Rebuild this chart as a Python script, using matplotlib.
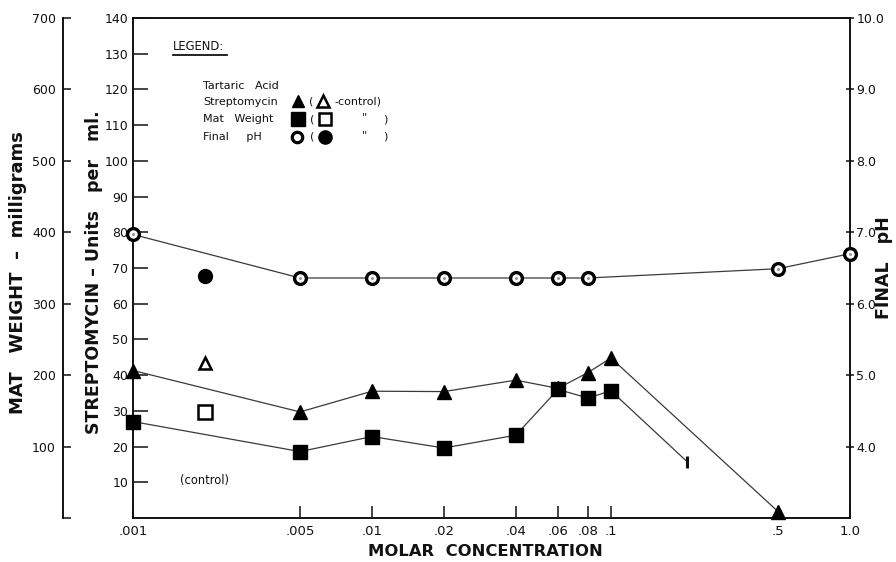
import matplotlib
matplotlib.use("Agg")
import matplotlib.pyplot as plt
from matplotlib.lines import Line2D
from matplotlib.ticker import FixedLocator, FixedFormatter, NullLocator

# ---- data -------------------------------------------------------------
conc_ticks = [0.001, 0.005, 0.01, 0.02, 0.04, 0.06, 0.08, 0.1, 0.5, 1.0]
conc_labels = [".001", ".005", ".01", ".02", ".04", ".06", ".08", ".1", ".5", "1.0"]

strep_conc = [0.001, 0.005, 0.01, 0.02, 0.04, 0.06, 0.08, 0.1, 0.5]
strep_units = [41.3, 29.7, 35.5, 35.4, 38.6, 36.3, 40.7, 44.8, 1.8]

mat_conc = [0.001, 0.005, 0.01, 0.02, 0.04, 0.06, 0.08, 0.1]
mat_mg = [135, 93, 114, 98, 116, 180, 168, 178]
mat_tail_conc = [0.1, 0.208]
mat_tail_mg = [178, 79]

ph_conc = [0.001, 0.005, 0.01, 0.02, 0.04, 0.06, 0.08, 0.5, 1.0]
final_ph = [6.97, 6.36, 6.36, 6.36, 6.36, 6.36, 6.36, 6.49, 6.70]

control_conc = 0.002
control_strep = 43.4
control_mat = 148
control_ph = 6.39

strep_ticks = list(range(10, 150, 10))
mat_ticks = list(range(0, 800, 100))
ph_ticks = [4.0, 5.0, 6.0, 7.0, 8.0, 9.0, 10.0]

# ---- layout -----------------------------------------------------------
W, H = 896, 562
L, R, B, T = 133, 850, 518, 18
INK = "#111111"
LINE = "#3a3a3a"
TICK_FS = 9
plt.rcParams["font.family"] = ["DejaVu Sans"]

fig = plt.figure(figsize=(W / 100, H / 100), dpi=100)
fig.patch.set_facecolor("white")
ax = fig.add_axes([L / W, 1 - B / H, (R - L) / W, (B - T) / H])


def fx(px):
    return px / W


def fy(py):
    return 1 - py / H


# streptomycin axis (main)
ax.set_xscale("log")
ax.set_xlim(0.001, 1.0)
ax.set_ylim(0, 140)
ax.xaxis.set_major_locator(FixedLocator(conc_ticks))
ax.xaxis.set_major_formatter(FixedFormatter(conc_labels))
ax.xaxis.set_minor_locator(NullLocator())
ax.yaxis.set_major_locator(FixedLocator(strep_ticks))
ax.yaxis.set_major_formatter(FixedFormatter([str(v) for v in strep_ticks]))
ax.tick_params(axis="x", direction="in", length=8.5, width=1.1, pad=5,
               labelsize=TICK_FS + 0.5, colors=INK)
ax.tick_params(axis="y", direction="in", length=11, width=1.1, pad=3.5,
               labelsize=TICK_FS, colors=INK)
for side in ("left", "bottom", "top"):
    ax.spines[side].set_linewidth(1.4)
    ax.spines[side].set_color(INK)
ax.spines["right"].set_visible(False)

# pH axis (right)
ax_p = ax.twinx()
ax_p.set_ylim(3, 10)
ax_p.yaxis.set_major_locator(FixedLocator(ph_ticks))
ax_p.yaxis.set_major_formatter(FixedFormatter([f"{v:.1f}" for v in ph_ticks]))
ax_p.tick_params(axis="y", direction="inout", length=6, width=1.1, pad=1.5,
                 labelsize=TICK_FS, colors=INK)
for side in ("left", "bottom", "top"):
    ax_p.spines[side].set_visible(False)
ax_p.spines["right"].set_linewidth(1.4)
ax_p.spines["right"].set_color(INK)

# mat weight axis (outer left)
ax_m = ax.twinx()
ax_m.set_ylim(0, 700)
ax_m.spines["left"].set_position(("axes", (62.7 - L) / (R - L)))
ax_m.spines["left"].set_visible(True)
ax_m.spines["left"].set_linewidth(1.4)
ax_m.spines["left"].set_color(INK)
for side in ("right", "bottom", "top"):
    ax_m.spines[side].set_visible(False)
ax_m.yaxis.set_ticks_position("left")
ax_m.yaxis.set_label_position("left")
ax_m.yaxis.set_major_locator(FixedLocator(mat_ticks))
ax_m.yaxis.set_major_formatter(
    FixedFormatter(["" if v == 0 else str(v) for v in mat_ticks]))
ax_m.tick_params(axis="y", direction="in", length=6, width=1.1, pad=5,
                 labelsize=TICK_FS, colors=INK)

# ---- series -----------------------------------------------------------
ax.plot(strep_conc, strep_units, "-", color=LINE, lw=0.9, marker="^", ms=10,
        mfc="k", mec="k", clip_on=False, zorder=3)
ax.plot([control_conc], [control_strep], ls="none", marker="^", ms=9,
        mfc="white", mec="k", mew=1.8, clip_on=False, zorder=3)
ax.text(control_conc, 10.5, "(control)", ha="center", va="center",
        fontsize=8.3, color=INK)

ax_m.plot(mat_tail_conc, mat_tail_mg, "-", color=LINE, lw=0.9, zorder=2)
ax_m.plot(mat_tail_conc[-1:], mat_tail_mg[-1:], ls="none", marker="|", ms=9,
          mew=2.2, color=INK, zorder=3)
ax_m.plot(mat_conc, mat_mg, "-", color=LINE, lw=0.9, marker="s", ms=10.5,
          mfc="k", mec="k", clip_on=False, zorder=3)
ax_m.plot([control_conc], [control_mat], ls="none", marker="s", ms=10,
          mfc="white", mec="k", mew=1.8, zorder=3)

ax_p.plot(ph_conc, final_ph, "-", color=LINE, lw=0.9, marker="o", ms=8.5,
          mfc="white", mec="k", mew=2.4, clip_on=False, zorder=3)
ax_p.plot(ph_conc, final_ph, ls="none", marker="o", ms=2.2, mfc="#9a9a9a",
          mec="none", clip_on=False, zorder=4)
ax_p.plot([control_conc], [control_ph], ls="none", marker="o", ms=10,
          mfc="k", mec="k", zorder=3)

# ---- axis titles ------------------------------------------------------
fig.text(fx(18), fy(273), "MAT   WEIGHT  –  milligrams", rotation=90,
         ha="center", va="center", fontsize=13, fontweight="bold", color=INK)
fig.text(fx(94), fy(272), "STREPTOMYCIN – Units   per   ml.", rotation=90,
         ha="center", va="center", fontsize=12.5, fontweight="bold", color=INK)
fig.text(fx(884), fy(268), "FINAL   pH", rotation=90,
         ha="center", va="center", fontsize=12.5, fontweight="bold", color=INK)
fig.text(fx(485), fy(551), "MOLAR  CONCENTRATION", ha="center", va="center",
         fontsize=11.8, fontweight="bold", color=INK)

# ---- legend -----------------------------------------------------------
lf = dict(fontsize=8, color=INK, va="center")
fig.text(fx(173), fy(47), "LEGEND:", fontsize=8.3, color=INK, va="center")
fig.add_artist(Line2D([fx(173), fx(227)], [fy(55), fy(55)], lw=1.3, color=INK))
fig.text(fx(203), fy(86), "Tartaric   Acid", **lf)
fig.text(fx(203), fy(102), "Streptomycin", **lf)
fig.text(fx(203), fy(119), "Mat   Weight", **lf)
fig.text(fx(203), fy(137), "Final     pH", **lf)


def legend_mark(px, py, **kw):
    fig.add_artist(Line2D([fx(px)], [fy(py)], ls="none", **kw))


legend_mark(298, 101, marker="^", ms=9, mfc="k", mec="k")
legend_mark(323, 101, marker="^", ms=8.5, mfc="white", mec="k", mew=1.8)
legend_mark(298, 119, marker="s", ms=9.5, mfc="k", mec="k")
legend_mark(325, 119, marker="s", ms=9, mfc="white", mec="k", mew=1.8)
legend_mark(297, 137, marker="o", ms=7.5, mfc="white", mec="k", mew=2.3)
legend_mark(325, 137, marker="o", ms=9.5, mfc="k", mec="k")
fig.text(fx(309), fy(102), "(", **lf)
fig.text(fx(334), fy(102), "-control)", **lf)
fig.text(fx(310), fy(119), "(", **lf)
fig.text(fx(310), fy(137), "(", **lf)
fig.text(fx(362), fy(117), "\"", **lf)
fig.text(fx(362), fy(135), "\"", **lf)
fig.text(fx(383), fy(119), ")", **lf)
fig.text(fx(383), fy(137), ")", **lf)

fig.savefig("out.png", dpi=100, facecolor="white")
